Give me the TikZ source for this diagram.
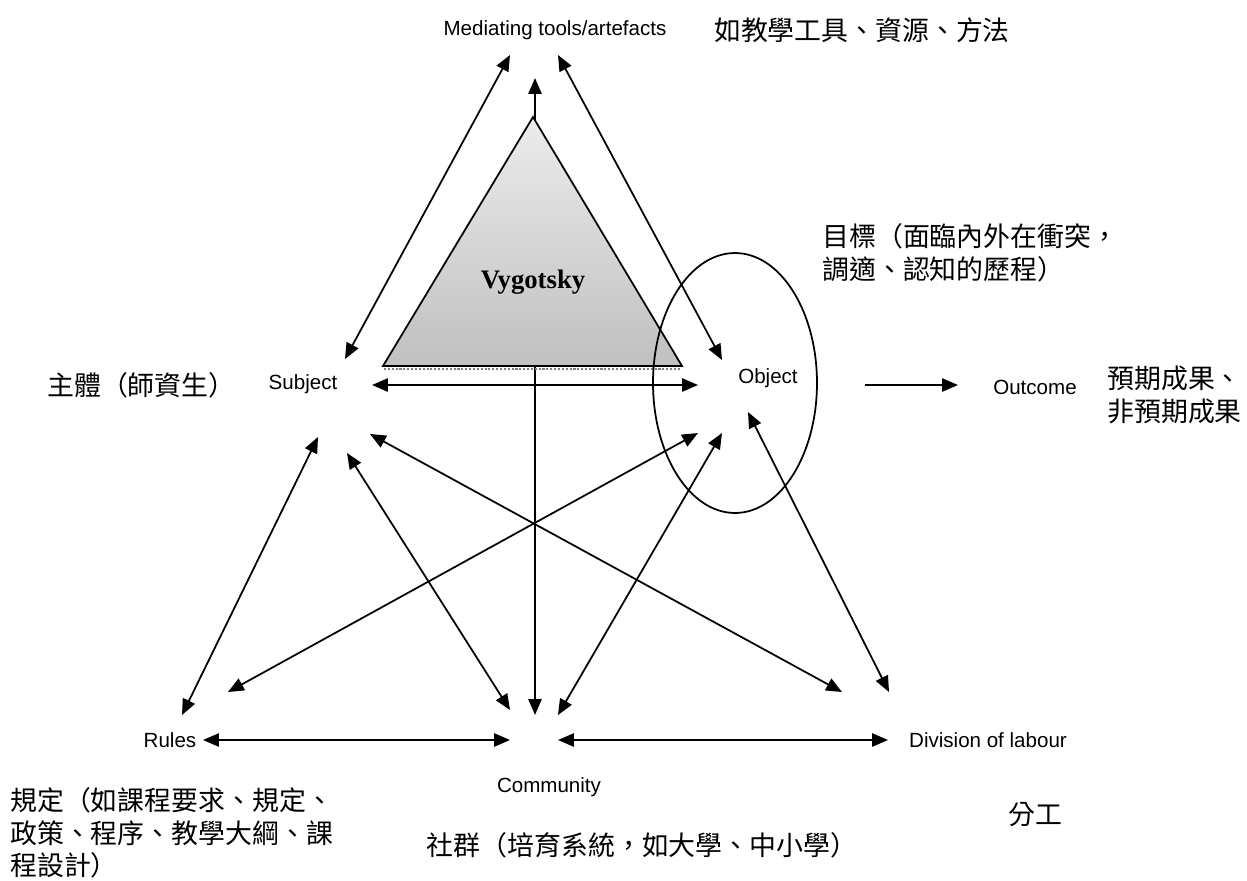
\documentclass[tikz,border=0pt]{standalone}
\usepackage{fontspec}
\setmainfont{Liberation Serif}
\setsansfont{Liberation Sans}
\newfontfamily\cjk{Noto Sans CJK TC}
\usetikzlibrary{arrows.meta}
\definecolor{triTop}{RGB}{236,236,236}
\definecolor{triBot}{RGB}{192,192,192}

\tikzset{
  lbl/.style={font=\sffamily\fontsize{11.7}{14}\selectfont, inner sep=0pt},
  note/.style={font=\cjk\fontsize{15.3}{18.5}\selectfont, inner sep=0pt, align=left},
  link/.style={<->, line width=1pt},
}

\begin{document}
\begin{tikzpicture}[x=0.02cm, y=-0.02cm, >={Triangle[length=9pt,width=7.5pt]}]
  \useasboundingbox (0,0) rectangle (1247,880);

  % Define blocks
  \node[lbl] (med) at (555,30) {Mediating tools/artefacts};
  \node[lbl] (subj) at (303,384) {Subject};
  \node[lbl] (obj) at (768,378) {Object};
  \node[lbl] (outc) at (1035,387) {Outcome};
  \node[lbl] (rules) at (170,740) {Rules};
  \node[lbl] (comm) at (549,787) {Community};
  \node[lbl] (div) at (988,740) {Division of labour};

  % Chinese notes
  \node[note] (medNote) at (862,30) {如教學工具、資源、方法};
  \node[note, anchor=west] (subjNote) at (47,385) {主體（師資生）};
  \node[note, anchor=west] (objNote) at (822,253) {目標（面臨內外在衝突，\\調適、認知的歷程）};
  \node[note, anchor=west] (outcNote) at (1107,395) {預期成果、\\非預期成果};
  \node[note, anchor=west] (rulesNote) at (10,833) {規定（如課程要求、規定、\\政策、程序、教學大綱、課\\程設計）};
  \node[note] (commNote) at (642,845) {社群（培育系統，如大學、中小學）};
  \node[note] (divNote) at (1035,815) {分工};

  % Arrow ends
  \coordinate (m-l) at (510,55);
  \coordinate (m-c) at (535,78);
  \coordinate (m-r) at (558,55);
  \coordinate (s-n) at (345,359);
  \coordinate (s-e) at (372,385);
  \coordinate (s-sw) at (318,437);
  \coordinate (s-s) at (347,453);
  \coordinate (s-se) at (370,434);
  \coordinate (o-n) at (722,360);
  \coordinate (o-w) at (698,385);
  \coordinate (o-sw) at (698,433);
  \coordinate (o-s) at (722,433);
  \coordinate (o-se) at (748,412);
  \coordinate (o-e) at (865,385);
  \coordinate (outc-w) at (958,385);
  \coordinate (r-n) at (182,715);
  \coordinate (r-ne) at (228,692);
  \coordinate (r-e) at (203,740);
  \coordinate (c-nw) at (510,710);
  \coordinate (c-n) at (535,715);
  \coordinate (c-ne) at (558,715);
  \coordinate (c-w) at (510,740);
  \coordinate (c-e) at (558,740);
  \coordinate (d-nw) at (842,692);
  \coordinate (d-n) at (889,692);
  \coordinate (d-w) at (888,740);

  % Connect blocks
  \draw[link] (m-c) -- (c-n);
  \draw[link] (m-l) -- (s-n);
  \draw[link] (m-r) -- (o-n);
  \draw[link] (s-e) -- (o-w);
  \draw[->, line width=1pt] (o-e) -- (outc-w);
  \draw[link] (s-sw) -- (r-n);
  \draw[link] (s-s) -- (c-nw);
  \draw[link] (s-se) -- (d-nw);
  \draw[link] (o-sw) -- (r-ne);
  \draw[link] (o-s) -- (c-ne);
  \draw[link] (o-se) -- (d-n);
  \draw[link] (r-e) -- (c-w);
  \draw[link] (c-e) -- (d-w);

  % Vygotsky triangle
  \draw[densely dotted, gray, line width=1.2pt] (384,369) -- (681,369);
  \draw[line width=1pt, top color=triTop, bottom color=triBot] (533,117) -- (383,366) -- (682,366) -- cycle;
  \node[font=\bfseries\fontsize{15.2}{18}\selectfont] (vyg) at (533,282) {Vygotsky};

  % object circle
  \draw[line width=1pt] (735,383) ellipse [x radius=1.64cm, y radius=2.6cm];
\end{tikzpicture}
\end{document}
